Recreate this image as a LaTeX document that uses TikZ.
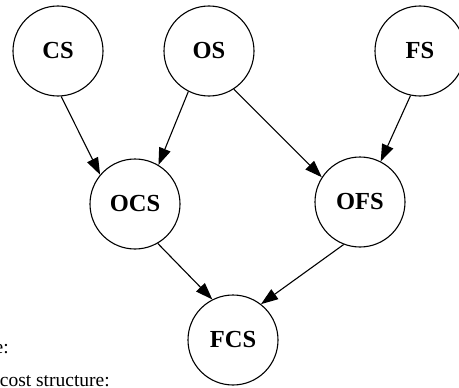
\documentclass[tikz,border=0pt]{standalone}
\usepackage{fontspec}
\setmainfont{Liberation Serif}
\usetikzlibrary{arrows.meta}

\begin{document}
\begin{tikzpicture}[
  x=1pt, y=-1pt,
  statenode/.style={circle, draw=black, fill=white, line width=1.1pt,
                    font=\bfseries\fontsize{24.5}{28}\selectfont,
                    minimum size=90pt, inner sep=0pt},
  notetext/.style={font=\fontsize{19.5}{22}\selectfont, inner sep=0pt, anchor=base east},
  edge/.style={draw=black, line width=1.1pt, -{Triangle[length=17pt,width=12pt]}},
]
\useasboundingbox (0,0) rectangle (459,388);

% ── Top row ────────────────────────────────────────────────────────────
\node[statenode] (CS) at (58,  51) {CS};
\node[statenode] (OS) at (209, 51) {OS};
\node[statenode] (FS) at (420, 51) {FS};

% ── Middle row ─────────────────────────────────────────────────────────
\node[statenode] (OCS) at (135, 204) {OCS};
\node[statenode] (OFS) at (360, 202) {OFS};

% ── Bottom ─────────────────────────────────────────────────────────────
\node[statenode] (FCS) at (233, 340) {FCS};

% ── Edges ──────────────────────────────────────────────────────────────
\draw[edge] (CS.-86)   -- (OCS.140);
\draw[edge] (OS.-117)  -- (OCS.59);
\draw[edge] (OS.-57)   -- (OFS.147);
\draw[edge] (FS.-102)  -- (OFS.63);
\draw[edge] (OCS.-60)  -- (FCS.117);
\draw[edge] (OFS.-111) -- (FCS.52);

% ── Cut-off notes, bottom left ─────────────────────────────────────────
\node[notetext] (note1) at (9,   353) {e:};
\node[notetext] (note2) at (110, 386) {cost structure:};

\end{tikzpicture}
\end{document}
